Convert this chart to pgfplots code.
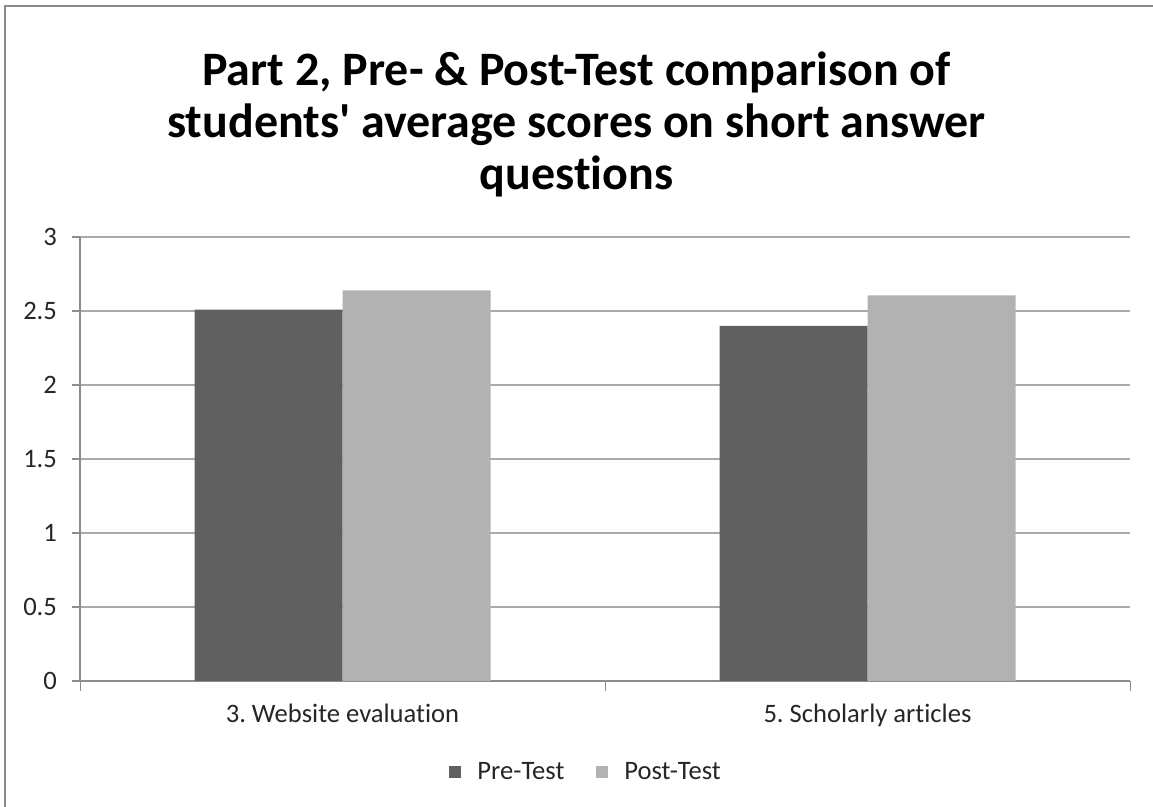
\documentclass[border=0pt]{standalone}
\usepackage{pgfplots}
\pgfplotsset{compat=1.18}
\usepackage{fontspec}
\setmainfont[Ligatures={NoCommon,NoRare,NoContextual}]{Carlito}
\frenchspacing
\newcommand{\nl}{\kern0pt{}}
\definecolor{pre}{RGB}{96,96,96}
\definecolor{post}{RGB}{178,178,178}
\definecolor{gridc}{RGB}{170,170,170}
\definecolor{axc}{RGB}{140,140,140}
\begin{document}
\begin{tikzpicture}
\path[use as bounding box] (0,0) rectangle (576.5pt,403.5pt);
\draw[axc, line width=1pt] (2.5pt,0) -- (2.5pt,400.5pt) -- (576.5pt,400.5pt);
\node[align=center, font=\bfseries\fontsize{24}{26}\selectfont] at (288.25pt,341.5pt)
  {Part 2, Pre- \& Post-Test comparison of\\students\textquotesingle{} average scores on short answer\\quest\nl ions};
\begin{axis}[
  at={(40pt,63pt)}, anchor=south west,
  scale only axis, width=525pt, height=222pt,
  ybar=0pt, bar width=74pt,
  xmin=-0.5, xmax=1.5, ymin=0, ymax=3,
  xtick={0,1}, xticklabels={3. Website evaluat\nl ion, 5. Scholarly art\nl icles},
  major x tick style={draw=none},
  extra x ticks={-0.5,0.5,1.5}, extra x tick labels={},
  extra x tick style={major tick length=5pt, tick align=outside, major x tick style={draw=axc}, grid=none},
  ytick={0,0.5,...,3},
  yticklabels={0,0.5,1,1.5,2,2.5,3},
  /pgf/number format/assume math mode=true,
  axis lines*=left,
  axis line style={axc, line width=0.8pt},
  ymajorgrids, grid style={gridc, line width=0.8pt},
  tick align=outside, major tick length=4pt,
  y tick style={axc, line width=0.8pt},
  tick label style={font=\fontsize{13.3}{16}\selectfont, text=black!85},
  xticklabel style={yshift=-4pt},
  yticklabel style={xshift=-4pt},
  legend style={at={(axis description cs:0.483,-0.205)}, anchor=center, draw=none,
    legend columns=2, font=\fontsize{13.3}{16}\selectfont, text=black!85,
    /tikz/every odd column/.append style={column sep=6pt},
    /tikz/every even column/.append style={column sep=14pt}},
  legend image code/.code={\fill[#1] (0pt,-3pt) rectangle (6pt,3pt);},
]
\addplot[fill=pre, draw=none] coordinates {(0,2.51) (1,2.40)};
\addplot[fill=post, draw=none] coordinates {(0,2.64) (1,2.605)};
\legend{Pre-Test, Post-Test}
\end{axis}
\end{tikzpicture}
\end{document}
